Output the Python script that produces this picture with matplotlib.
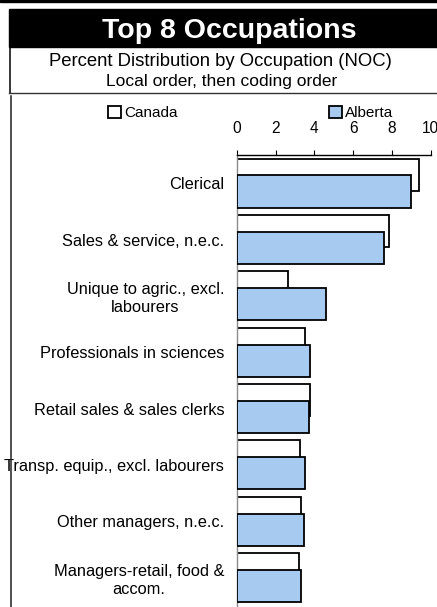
import matplotlib
matplotlib.use("Agg")
import matplotlib.pyplot as plt
from matplotlib.patches import Rectangle
from matplotlib.lines import Line2D
import numpy as np

plt.rcParams['font.family'] = ['Liberation Sans', 'DejaVu Sans']

# --- Data (percent distribution) ---
categories = [
    "Clerical",
    "Sales & service, n.e.c.",
    "Unique to agric., excl.\nlabourers",
    "Professionals in sciences",
    "Retail sales & sales clerks",
    "Transp. equip., excl. labourers",
    "Other managers, n.e.c.",
    "Managers-retail, food &\naccom.",
]
canada = [9.41, 7.83, 2.63, 3.54, 3.80, 3.26, 3.31, 3.23]
alberta = [8.97, 7.58, 4.59, 3.80, 3.74, 3.54, 3.47, 3.30]
x_ticks = [0, 2, 4, 6, 8, 10]

W, H = 437, 607


def fx(px):
    return px / W


def fy(py):
    return 1 - py / H


fig = plt.figure(figsize=(W / 100, H / 100), dpi=100)

# --- Header decorations ---
fig.patches.append(Rectangle((0, fy(2)), 1, 2 / H, color='black',
                             transform=fig.transFigure, figure=fig))
fig.patches.append(Rectangle((fx(9), fy(47)), 1 - fx(9), 38 / H, color='black',
                             transform=fig.transFigure, figure=fig))
fig.lines.append(Line2D([fx(9.5), fx(9.5)], [fy(47), fy(93)], color='black', lw=1.1,
                        transform=fig.transFigure, figure=fig))
fig.lines.append(Line2D([fx(9), 1], [fy(93), fy(93)], color='#333333', lw=1.0,
                        transform=fig.transFigure, figure=fig))
fig.lines.append(Line2D([fx(11), fx(11)], [fy(96), 0], color='#222222', lw=1.1,
                        transform=fig.transFigure, figure=fig))

fig.text(fx(229), fy(38.3), "Top 8 Occupations", color='white', fontsize=20.5,
         fontweight='bold', ha='center', va='baseline')
fig.text(fx(220.5), fy(66.5), "Percent Distribution by Occupation (NOC)",
         fontsize=13.3, ha='center', va='baseline')
fig.text(fx(221.5), fy(86), "Local order, then coding order",
         fontsize=12.5, ha='center', va='baseline')

# --- Chart ---
ax = fig.add_axes([fx(236.7), fy(606), 194 / W, 451 / H])
pos = np.arange(len(categories))
bar_h = 0.57
bc = ax.barh(pos - 0.152, canada, height=bar_h, color='white', edgecolor='black',
             linewidth=1.3, label='Canada', zorder=2)
ba = ax.barh(pos + 0.148, alberta, height=bar_h, color='#A6CAF0', edgecolor='black',
             linewidth=1.3, label='Alberta', zorder=3)

ax.set_xlim(0, 10)
ax.set_ylim(len(categories) - 0.5, -0.5)
ax.xaxis.tick_top()
ax.set_xticks(x_ticks)
ax.set_xticklabels([str(t) for t in x_ticks])
ax.tick_params(axis='x', direction='out', length=3.6, width=0.8, pad=10,
               labelsize=11.2, colors='black')
ax.set_yticks(pos)
ax.set_yticklabels(categories, multialignment='center')
ax.tick_params(axis='y', length=0, pad=9, labelsize=11.8)

ax.spines['right'].set_visible(False)
ax.spines['bottom'].set_visible(False)
ax.spines['left'].set_color('#8c8c8c')
ax.spines['left'].set_linewidth(1.0)
ax.spines['top'].set_color('black')
ax.spines['top'].set_linewidth(1.0)

fig.legend(handles=[bc, ba], labels=['Canada', 'Alberta'], loc='center left',
           bbox_to_anchor=(fx(108), fy(113)), ncol=2, frameon=False, fontsize=11,
           handlelength=0.85, handleheight=0.85, handletextpad=0.2,
           columnspacing=9.9, borderpad=0, borderaxespad=0)

fig.savefig("out.png", dpi=100)
